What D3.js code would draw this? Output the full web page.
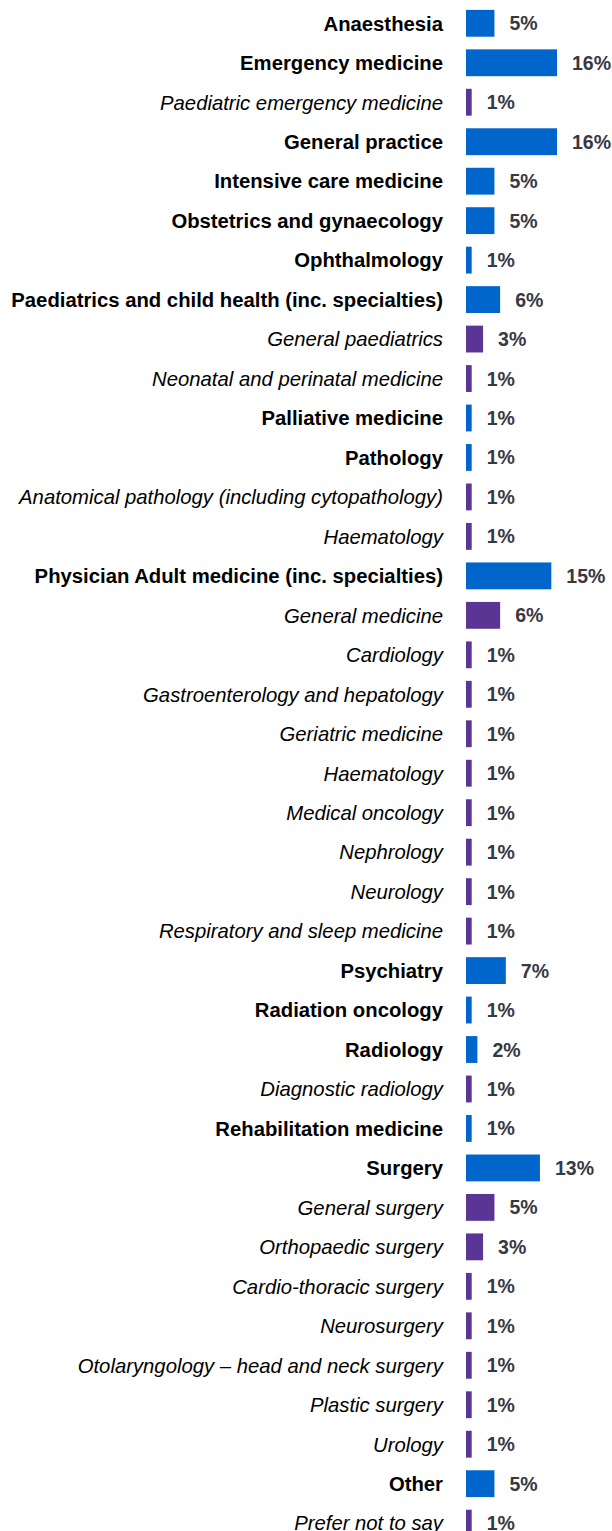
<!DOCTYPE html>
<html>
<head>
<meta charset="utf-8">
<script src="https://cdn.jsdelivr.net/npm/d3@7"></script>
<style>
  html, body { margin: 0; padding: 0; background: #fff; }
  svg { display: block; }
</style>
</head>
<body>
<script>
const categories = [
  "Anaesthesia", "Emergency medicine", "Paediatric emergency medicine", "General practice",
  "Intensive care medicine", "Obstetrics and gynaecology", "Ophthalmology",
  "Paediatrics and child health (inc. specialties)", "General paediatrics",
  "Neonatal and perinatal medicine", "Palliative medicine", "Pathology",
  "Anatomical pathology (including cytopathology)", "Haematology",
  "Physician Adult medicine (inc. specialties)", "General medicine", "Cardiology",
  "Gastroenterology and hepatology", "Geriatric medicine", "Haematology",
  "Medical oncology", "Nephrology", "Neurology", "Respiratory and sleep medicine",
  "Psychiatry", "Radiation oncology", "Radiology", "Diagnostic radiology",
  "Rehabilitation medicine", "Surgery", "General surgery", "Orthopaedic surgery",
  "Cardio-thoracic surgery", "Neurosurgery", "Otolaryngology \u2013 head and neck surgery",
  "Plastic surgery", "Urology", "Other", "Prefer not to say"
];
const values = [
  5, 16, 1, 16, 5, 5, 1, 6, 3, 1, 1, 1, 1, 1, 15, 6, 1, 1, 1, 1, 1, 1, 1, 1,
  7, 1, 2, 1, 1, 13, 5, 3, 1, 1, 1, 1, 1, 5, 1
];
// "main" = specialty (bold, blue), "sub" = sub-specialty (italic, purple)
const levels = [
  "main","main","sub","main","main","main","main","main","sub","sub","main","main","sub","sub",
  "main","sub","sub","sub","sub","sub","sub","sub","sub","sub",
  "main","main","main","sub","main","main","sub","sub","sub","sub","sub","sub","sub","main","sub"
];

const W = 612, H = 1531;
const barX0 = 466, labelX = 443;
const colors = { main: "#0066CC", sub: "#5B3594" };

const data = categories.map((c, i) => ({ i, label: c, value: values[i], level: levels[i] }));

const svg = d3.select("body").append("svg").attr("width", W).attr("height", H);

const step = 39.47;
const y = d3.scaleBand()
  .domain(data.map(d => d.i))
  .range([23.3 - step / 2, 23.3 - step / 2 + step * data.length])
  .paddingInner(0.32)
  .paddingOuter(0.16);

const x = d3.scaleLinear().domain([0, 16]).range([barX0, barX0 + 91]);

const rows = svg.append("g").selectAll("g").data(data).join("g");

rows.append("rect")
  .attr("x", x(0))
  .attr("y", d => y(d.i))
  .attr("width", d => x(d.value) - x(0))
  .attr("height", y.bandwidth())
  .attr("fill", d => colors[d.level]);

rows.append("text")
  .attr("x", labelX)
  .attr("y", d => y(d.i) + y.bandwidth() / 2)
  .attr("dy", "0.36em")
  .attr("text-anchor", "end")
  .attr("font-family", "'Liberation Sans', Arial, sans-serif")
  .attr("font-size", 20.3)
  .attr("font-weight", d => d.level === "main" ? "bold" : "normal")
  .attr("font-style", d => d.level === "main" ? "normal" : "italic")
  .attr("fill", "#000")
  .text(d => d.label);

rows.append("text")
  .attr("x", d => x(d.value) + 15)
  .attr("y", d => y(d.i) + y.bandwidth() / 2)
  .attr("dy", "0.36em")
  .attr("font-family", "'Liberation Sans', Arial, sans-serif")
  .attr("font-size", 19.5)
  .attr("font-weight", "bold")
  .attr("fill", "#383842")
  .text(d => d.value + "%");
</script>
</body>
</html>
